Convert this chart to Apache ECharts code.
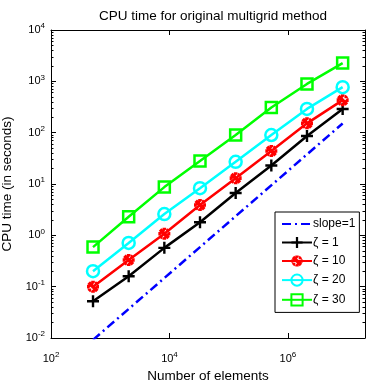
<!DOCTYPE html>
<html>
<head>
<meta charset="utf-8">
<script src="https://cdn.jsdelivr.net/npm/echarts@6/dist/echarts.min.js"></script>
<style>
  html, body { margin: 0; padding: 0; background: #fff; }
  #chart { width: 367px; height: 380px; }
</style>
</head>
<body>
<div id="chart"></div>
<script>
// number of elements (x) and CPU time (y)
const elements = [512, 2048, 8192, 32768, 131072, 524288, 2097152, 8388608]
const zeta1 = [0.052, 0.16, 0.57, 1.8, 6.7, 23, 86, 290]
const zeta10 = [0.10, 0.33, 1.07, 3.9, 13, 44, 152, 430]
const zeta20 = [0.20, 0.71, 2.6, 8.3, 27, 90, 290, 770]
const zeta30 = [0.59, 2.3, 8.7, 28, 90, 310, 890, 2270]
const slopeX = [512, 8388608]
const slopeY = [0.0092, 151]

const xTicks = [1e2, 1e4, 1e6]
const yTicks = [1e-2, 1e-1, 1e0, 1e1, 1e2, 1e3, 1e4]
const yMinor = []
yTicks.slice(0, -1).forEach(d => {
  [2, 3, 4, 5, 6, 7, 8, 9].forEach(m => yMinor.push(+(d * m).toPrecision(3)))
})

const font = '"Liberation Sans", Arial, Helvetica, sans-serif'
const pair = (xs, ys) => xs.map((x, i) => [x, ys[i]])

const plusPath = 'path://M-1,-5h2v4h4v2h-4v4h-2v-4h-4v-2h4z'
const starPath = 'path://M-1.5,-5h3v3.5h3.5v3h-3.5v3.5h-3v-3.5h-3.5v-3h3.5z' +
  'M4.6,2.5L2.5,4.6L-4.6,-2.5L-2.5,-4.6Z' +
  'M-4.6,2.5L-2.5,4.6L4.6,-2.5L2.5,-4.6Z'

const powLabel = v => {
  const e = Math.round(Math.log10(v))
  return '{b|10}{s|' + e + '}'
}
const labelRich = {
  b: { fontSize: 11, fontFamily: font, color: '#000' },
  s: { fontSize: 8, fontFamily: font, color: '#000', verticalAlign: 'bottom', padding: [0, 0, 8, 0] }
}

const blackLine = { lineStyle: { color: '#000', width: 1 } }

const chart = echarts.init(document.getElementById('chart'))
const option = {
  animation: false,
  title: {
    text: 'CPU time for original multigrid method',
    left: 208,
    textAlign: 'center',
    top: 4,
    textStyle: { fontSize: 13.5, fontWeight: 'normal', color: '#000', fontFamily: font }
  },
  grid: { left: 51, right: 2, top: 30, bottom: 42, outerBoundsMode: 'none', containLabel: false },
  legend: {
    orient: 'vertical',
    left: 275,
    top: 212,
    padding: [6, 4, 6, 6],
    itemWidth: 30,
    itemHeight: 14,
    itemGap: 6.5,
    backgroundColor: '#fff',
    borderColor: '#000',
    borderWidth: 1,
    borderRadius: 0,
    textStyle: { fontSize: 12, color: '#000', fontFamily: font, padding: [0, 0, 0, -4] },
    data: [
      { name: 'slope=1', itemStyle: { opacity: 0 } },
      'ζ = 1', 'ζ = 10', 'ζ = 20', 'ζ = 30'
    ]
  },
  xAxis: [
    {
      type: 'log',
      min: 100,
      max: 2e7,
      position: 'bottom',
      name: 'Number of elements',
      nameLocation: 'middle',
      nameGap: 26,
      nameTextStyle: { fontSize: 13.5, color: '#000', fontFamily: font },
      axisLine: blackLine,
      axisTick: { inside: true, length: 5, customValues: xTicks, lineStyle: { color: '#000' } },
      axisLabel: { customValues: xTicks, formatter: powLabel, rich: labelRich, margin: 13 },
      splitLine: { show: false }
    },
    {
      type: 'log',
      min: 100,
      max: 2e7,
      position: 'top',
      axisLine: blackLine,
      axisTick: { inside: true, length: 5, customValues: xTicks, lineStyle: { color: '#000' } },
      axisLabel: { show: false },
      splitLine: { show: false }
    }
  ],
  yAxis: [
    {
      type: 'log',
      min: 0.01,
      max: 10000,
      position: 'left',
      name: 'CPU time (in seconds)',
      nameLocation: 'middle',
      nameGap: 24,
      nameTextStyle: { fontSize: 13.5, color: '#000', fontFamily: font },
      axisLine: blackLine,
      axisTick: { inside: true, length: 5, customValues: yTicks, lineStyle: { color: '#000' } },
      axisLabel: { customValues: yTicks, formatter: powLabel, rich: labelRich, margin: 6 },
      splitLine: { show: false }
    },
    {
      type: 'log',
      min: 0.01,
      max: 10000,
      position: 'right',
      axisLine: blackLine,
      axisTick: { inside: true, length: 5, customValues: yTicks, lineStyle: { color: '#000' } },
      axisLabel: { show: false },
      splitLine: { show: false }
    },
    {
      type: 'log',
      min: 0.01,
      max: 10000,
      position: 'left',
      axisLine: { show: false },
      axisTick: { inside: true, length: 2.5, customValues: yMinor, lineStyle: { color: '#000' } },
      axisLabel: { show: false },
      splitLine: { show: false }
    },
    {
      type: 'log',
      min: 0.01,
      max: 10000,
      position: 'right',
      axisLine: { show: false },
      axisTick: { inside: true, length: 2.5, customValues: yMinor, lineStyle: { color: '#000' } },
      axisLabel: { show: false },
      splitLine: { show: false }
    }
  ],
  series: [
    {
      name: 'slope=1',
      type: 'line',
      showSymbol: false,
      symbol: 'none',
      lineStyle: { color: '#0000ff', width: 2.5, type: [9, 4, 2, 4] },
      itemStyle: { color: '#0000ff' },
      data: pair(slopeX, slopeY)
    },
    {
      name: 'ζ = 1',
      type: 'line',
      symbol: plusPath,
      symbolSize: 12,
      lineStyle: { color: '#000', width: 2.5 },
      itemStyle: { color: '#000' },
      data: pair(elements, zeta1)
    },
    {
      name: 'ζ = 10',
      type: 'line',
      symbol: starPath,
      symbolSize: 12,
      lineStyle: { color: '#ff0000', width: 2.5 },
      itemStyle: { color: '#ff0000' },
      data: pair(elements, zeta10)
    },
    {
      name: 'ζ = 20',
      type: 'line',
      symbol: 'circle',
      symbolSize: 12,
      lineStyle: { color: '#00ffff', width: 2.5 },
      itemStyle: { color: 'transparent', borderColor: '#00ffff', borderWidth: 2.5 },
      data: pair(elements, zeta20)
    },
    {
      name: 'ζ = 30',
      type: 'line',
      symbol: 'rect',
      symbolSize: 11,
      lineStyle: { color: '#00ff00', width: 2.5 },
      itemStyle: { color: 'transparent', borderColor: '#00ff00', borderWidth: 2.5 },
      data: pair(elements, zeta30)
    }
  ]
}

chart.setOption(option)
window.addEventListener('resize', () => {
  chart.resize()
})
</script>
</body>
</html>
